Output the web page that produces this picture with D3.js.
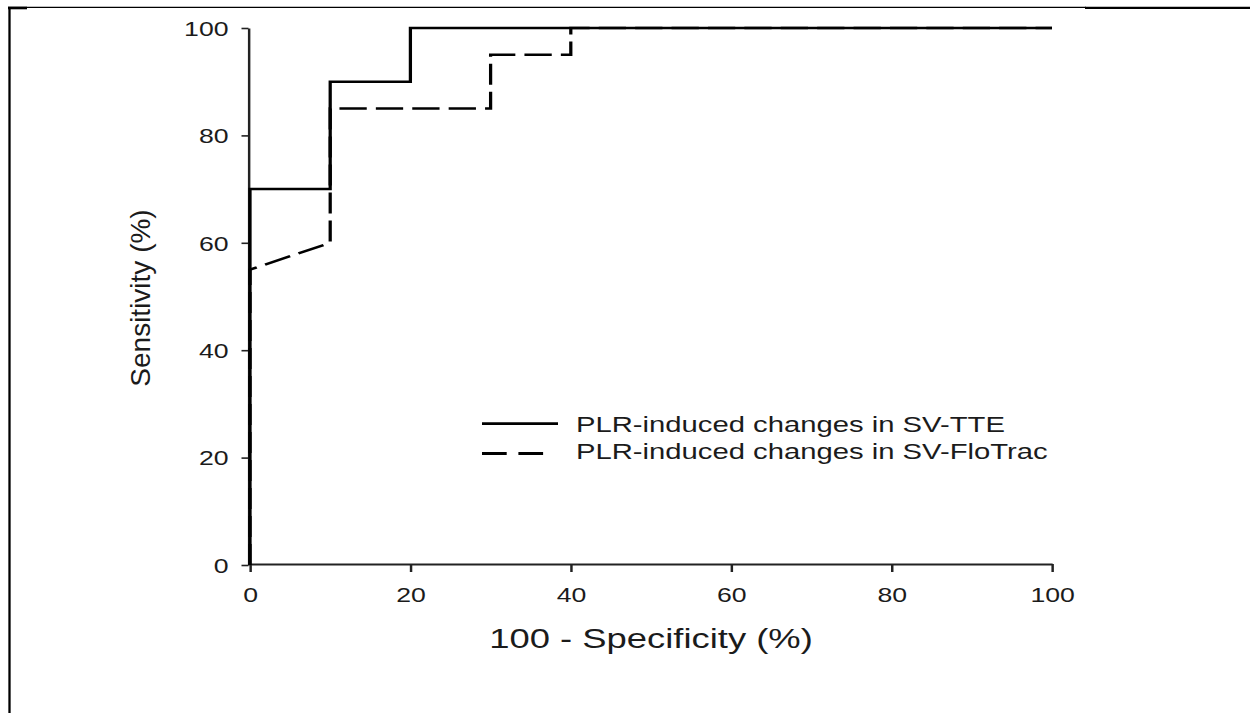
<!DOCTYPE html>
<html>
<head>
<meta charset="utf-8">
<script src="https://cdn.jsdelivr.net/npm/d3@7"></script>
<style>
  html, body { margin: 0; padding: 0; background: #fff; }
  svg { display: block; }
</style>
</head>
<body>
<svg id="chart" width="1250" height="713"></svg>
<script>
// ROC curves: sensitivity against 100 - specificity, both in percent
const xTicks = [0, 20, 40, 60, 80, 100];
const yTicks = [0, 20, 40, 60, 80, 100];
const seriesNames = [
  "PLR-induced changes in SV-TTE",
  "PLR-induced changes in SV-FloTrac"
];
const tteFpr  = [0, 0, 10, 10, 20, 20, 100];
const tteSens = [0, 70, 70, 90, 90, 100, 100];
const floFpr  = [0, 0, 10, 10, 30, 30, 40, 40, 100];
const floSens = [0, 55, 60, 85, 85, 95, 95, 100, 100];
const xTitle = "100 - Specificity (%)";
const yTitle = "Sensitivity (%)";

const FONT = '"Liberation Sans", Arial, Helvetica, sans-serif';
const INK = "#1b1b1b";
const SX = 1.3;            // the figure is drawn horizontally widened

const svg = d3.select("#chart");
svg.append("rect").attr("width", 1250).attr("height", 713).attr("fill", "#fff");

// page frame
const frame = svg.append("g").attr("stroke", "#000").attr("fill", "none");
frame.append("path").attr("d", "M8,7.3H1086").attr("stroke-width", 1.3);
frame.append("path").attr("d", "M1085,7.9H1250").attr("stroke-width", 2.3);
frame.append("path").attr("d", "M8,8H27").attr("stroke-width", 2.6);
frame.append("path").attr("d", "M9.5,7V713").attr("stroke-width", 2.3);

const g = svg.append("g").attr("transform", `scale(${SX},1)`);

const x = d3.scaleLinear().domain([0, 100]).range([250 / SX, 1052 / SX]);
const y = d3.scaleLinear().domain([0, 100]).range([565, 28]);

// y axis
const gy = g.append("g")
  .attr("transform", `translate(${x(0) - 1.5 / SX},0)`)
  .call(d3.axisLeft(y).tickValues(yTicks).tickSize(7 / SX).tickSizeOuter(0).tickPadding(13 / SX))
  .attr("font-family", FONT).attr("font-size", 20.5);
gy.select(".domain").attr("stroke", "#222").attr("stroke-width", 1.9);
gy.selectAll(".tick line").attr("stroke", "#222").attr("stroke-width", 1.6);
gy.selectAll(".tick text").attr("fill", INK).attr("dy", "0.355em");

// x axis
const gx = g.append("g")
  .attr("transform", `translate(0,${y(0) - 1})`)
  .call(d3.axisBottom(x).tickValues(xTicks).tickSize(8).tickSizeOuter(0).tickPadding(15.4))
  .attr("font-family", FONT).attr("font-size", 20.5);
gx.select(".domain").attr("stroke", "#222").attr("stroke-width", 1.9);
gx.selectAll(".tick line").attr("stroke", "#222").attr("stroke-width", 1.9);
gx.selectAll(".tick text").attr("fill", INK);

// axis titles
g.append("text")
  .attr("x", (x(0) + x(100)) / 2).attr("y", 648)
  .attr("text-anchor", "middle")
  .attr("font-family", FONT).attr("font-size", 28).attr("fill", INK)
  .text(xTitle);

svg.append("text")
  .attr("transform", "translate(150,298) rotate(-90)")
  .attr("text-anchor", "middle")
  .attr("font-family", FONT).attr("font-size", 28).attr("fill", INK)
  .text(yTitle);

// curves
const line = d3.line().x(d => x(d[0])).y(d => y(d[1]));
const dashed = "21,7";

g.append("path")
  .datum(d3.zip(floFpr, floSens))
  .attr("d", line)
  .attr("fill", "none").attr("stroke", "#000").attr("stroke-width", 2.5)
  .attr("stroke-dasharray", dashed).attr("stroke-linejoin", "miter");

g.append("path")
  .datum(d3.zip(tteFpr, tteSens))
  .attr("d", line)
  .attr("fill", "none").attr("stroke", "#000").attr("stroke-width", 2.5)
  .attr("stroke-linejoin", "miter");

// legend
const legend = g.append("g");
const rows = [
  { name: seriesNames[0], dash: null, y: 423.7, x1: 482, x2: 558, base: 431.7 },
  { name: seriesNames[1], dash: "19,9", y: 453.5, x1: 482, x2: 546, base: 459.3 }
];
rows.forEach(r => {
  legend.append("line")
    .attr("x1", r.x1 / SX).attr("x2", r.x2 / SX)
    .attr("y1", r.y).attr("y2", r.y)
    .attr("stroke", "#000").attr("stroke-width", 2.8)
    .attr("stroke-dasharray", r.dash);
  legend.append("text")
    .attr("x", 576 / SX).attr("y", r.base)
    .attr("font-family", FONT).attr("font-size", 22.5).attr("fill", INK)
    .text(r.name);
});
</script>
</body>
</html>
